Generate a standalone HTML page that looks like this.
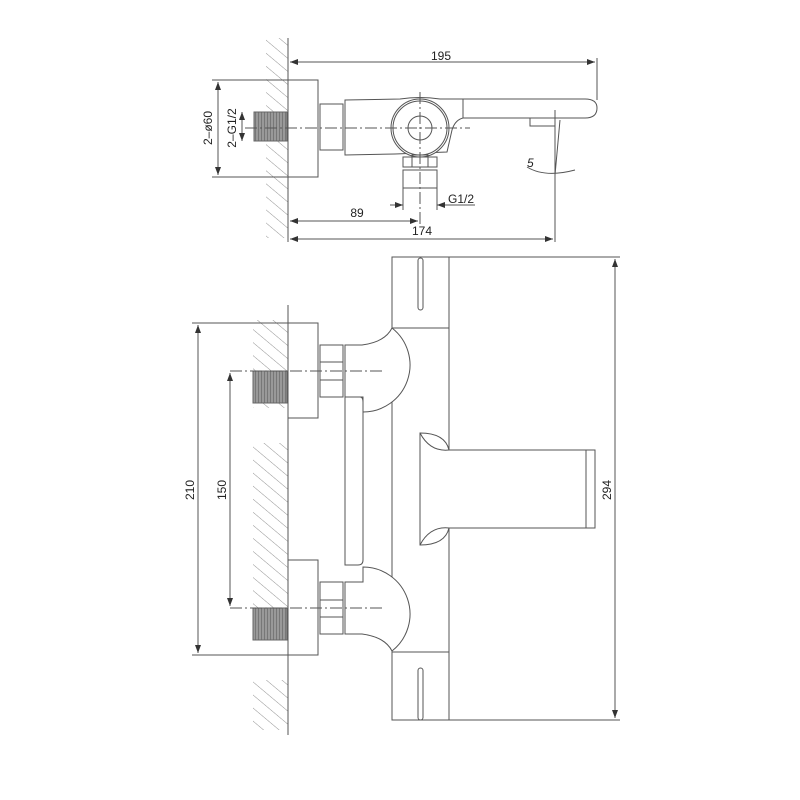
<!DOCTYPE html>
<html><head><meta charset="utf-8"><style>
html,body{margin:0;padding:0;background:#fff;}
svg{display:block;}
text{font-family:"Liberation Sans",sans-serif;fill:#222;}
</style></head><body>
<svg width="800" height="800" viewBox="0 0 800 800" xmlns="http://www.w3.org/2000/svg">
<defs>
<pattern id="h" patternUnits="userSpaceOnUse" width="10" height="10" patternTransform="rotate(-50)">
<line x1="0" y1="0" x2="0" y2="10" stroke="#777" stroke-width="0.8"/>
</pattern>
<pattern id="t" patternUnits="userSpaceOnUse" width="3" height="3">
<rect width="3" height="3" fill="#999"/><line x1="0" y1="0" x2="0" y2="3" stroke="#555" stroke-width="1"/>
</pattern>
<marker id="a" markerWidth="8" markerHeight="6" refX="8" refY="3" orient="auto-start-reverse" markerUnits="userSpaceOnUse">
<path d="M0,0 L8,3 L0,6 Z" fill="#333"/>
</marker>
</defs>
<g fill="none" stroke="#555" stroke-width="1">
<!-- TOP VIEW -->
<rect x="266" y="38" width="22" height="200" fill="url(#h)" stroke="none"/>
<line x1="288" y1="38" x2="288" y2="242"/>
<rect x="288" y="80" width="30" height="97" fill="#fff"/>
<rect x="254" y="112" width="33" height="29" fill="url(#t)" stroke="#666"/>
<rect x="320" y="104" width="23" height="46" fill="#fff"/>
<path d="M345,100 L400,99 Q420,96 440,99 L463,99 L585,99 Q597,99 597,108 Q597,118 585,118 L463,118 Q455,120 452,130 L447,152 L395,154 L345,155 Z" fill="#fff"/>
<line x1="463" y1="99" x2="463" y2="118"/>
<rect x="530" y="118" width="25" height="8"/>
<circle cx="420" cy="128" r="29" fill="#fff"/>
<circle cx="420" cy="128" r="27"/>
<circle cx="420" cy="128" r="12"/>
<rect x="403" y="157" width="34" height="10" fill="#fff"/>
<rect x="403" y="170" width="34" height="18" fill="#fff"/>
<rect x="412" y="155" width="16" height="12"/>
<line x1="245" y1="128" x2="470" y2="128" stroke-dasharray="12,3,2,3"/>
<line x1="420" y1="92" x2="420" y2="225" stroke-dasharray="12,3,2,3"/>
<line x1="555" y1="110" x2="555" y2="242"/>
<line x1="555" y1="175" x2="560" y2="120"/>
<path d="M527,167 Q545,178 575,170"/>
<!-- dims top -->
<line x1="597" y1="58" x2="597" y2="100"/>
<line x1="290" y1="62" x2="595" y2="62" marker-start="url(#a)" marker-end="url(#a)"/>
<line x1="290" y1="221" x2="418" y2="221" marker-start="url(#a)" marker-end="url(#a)"/>
<line x1="290" y1="239" x2="553" y2="239" marker-start="url(#a)" marker-end="url(#a)"/>
<line x1="403" y1="188" x2="403" y2="210"/>
<line x1="437" y1="188" x2="437" y2="210"/>
<line x1="390" y1="205" x2="403" y2="205" marker-end="url(#a)"/>
<line x1="475" y1="205" x2="437" y2="205" marker-end="url(#a)"/>
<line x1="212" y1="80" x2="288" y2="80"/>
<line x1="212" y1="177" x2="288" y2="177"/>
<line x1="218" y1="82" x2="218" y2="175" marker-start="url(#a)" marker-end="url(#a)"/>
<line x1="242" y1="112" x2="242" y2="141" marker-start="url(#a)" marker-end="url(#a)"/>

<!-- MAIN VIEW -->
<rect x="253" y="320" width="35" height="88" fill="url(#h)" stroke="none"/>
<rect x="253" y="443" width="35" height="167" fill="url(#h)" stroke="none"/>
<rect x="253" y="680" width="35" height="50" fill="url(#h)" stroke="none"/>
<line x1="288" y1="305" x2="288" y2="735"/>
<rect x="288" y="323" width="30" height="95" fill="#fff"/>
<rect x="288" y="560" width="30" height="95" fill="#fff"/>
<rect x="253" y="371" width="34" height="32" fill="url(#t)" stroke="#666"/>
<rect x="253" y="608" width="34" height="32" fill="url(#t)" stroke="#666"/>
<!-- column -->
<rect x="392" y="257" width="57" height="463" fill="#fff"/>
<line x1="392" y1="328" x2="449" y2="328"/>
<line x1="392" y1="652" x2="449" y2="652"/>
<rect x="418" y="258" width="5" height="52" rx="2.5"/>
<rect x="418" y="668" width="5" height="52" rx="2.5"/>
<!-- body left block -->
<path d="M345,397 L360,397 Q363,397 363,402 L363,560 Q363,565 358,565 L345,565 Z" fill="#fff"/>
<!-- upper elbow -->
<path d="M345,345 L362,345 Q385,342 392,328 A47,47 0 0 1 363,412 L363,397 L345,397 Z" fill="#fff"/>
<!-- lower elbow -->
<path d="M345,582 L363,582 L363,567 A47,47 0 0 1 392,651 Q385,637 362,634 L345,634 Z" fill="#fff"/>
<rect x="320" y="345" width="23" height="52" fill="#fff"/>
<line x1="320" y1="362" x2="343" y2="362"/><line x1="320" y1="380" x2="343" y2="380"/>
<rect x="320" y="582" width="23" height="52" fill="#fff"/>
<line x1="320" y1="600" x2="343" y2="600"/><line x1="320" y1="617" x2="343" y2="617"/>
<path d="M420,433 Q445,433 449,450 L595,450 L595,528 L449,528 Q445,545 420,545 Z" fill="#fff"/>
<path d="M420,433 Q430,452 449,450"/>
<path d="M420,545 Q430,526 449,528"/>
<line x1="586" y1="450" x2="586" y2="528"/>
<line x1="230" y1="371" x2="385" y2="371" stroke-dasharray="12,3,2,3"/>
<line x1="230" y1="608" x2="385" y2="608" stroke-dasharray="12,3,2,3"/>
<!-- dims main -->
<line x1="192" y1="323" x2="288" y2="323"/>
<line x1="192" y1="655" x2="288" y2="655"/>
<line x1="198" y1="325" x2="198" y2="653" marker-start="url(#a)" marker-end="url(#a)"/>
<line x1="230" y1="373" x2="230" y2="606" marker-start="url(#a)" marker-end="url(#a)"/>
<line x1="449" y1="257" x2="620" y2="257"/>
<line x1="449" y1="720" x2="620" y2="720"/>
<line x1="615" y1="259" x2="615" y2="718" marker-start="url(#a)" marker-end="url(#a)"/>
</g>
<g font-size="12">
<text x="441" y="60" text-anchor="middle">195</text>
<text x="357" y="217" text-anchor="middle">89</text>
<text x="422" y="235" text-anchor="middle">174</text>
<text x="448" y="203">G1/2</text>
<text x="527" y="167" font-style="italic">5</text>
<text transform="translate(212,128) rotate(-90)" text-anchor="middle">2–ø60</text>
<text transform="translate(236,128) rotate(-90)" text-anchor="middle">2–G1/2</text>
<text transform="translate(194,490) rotate(-90)" text-anchor="middle">210</text>
<text transform="translate(226,490) rotate(-90)" text-anchor="middle">150</text>
<text transform="translate(611,490) rotate(-90)" text-anchor="middle">294</text>
</g>
</svg>
</body></html>
